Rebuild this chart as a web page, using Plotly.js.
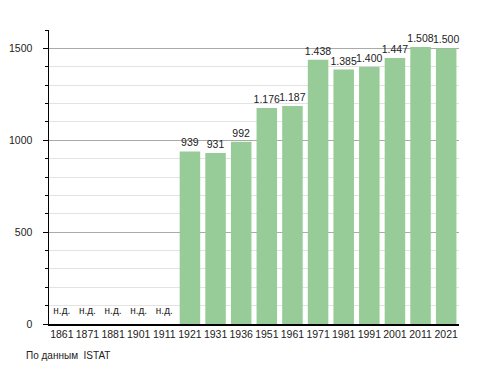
<!DOCTYPE html>
<html>
<head>
<meta charset="utf-8">
<script src="https://cdn.plot.ly/plotly-3.0.1.min.js"></script>
<style>html,body{margin:0;padding:0;background:#fff;}#chart{width:488px;height:373px;}</style>
</head>
<body>
<div id="chart"></div>
<script>
const years = ["1861","1871","1881","1901","1911","1921","1931","1936","1951","1961","1971","1981","1991","2001","2011","2021"];
const population = [null,null,null,null,null,939,931,992,1176,1187,1438,1385,1400,1447,1508,1500];
const missingLabel = "н.д.";
const sourceNote = "По данным  ISTAT";

const missYears = years.filter((y, i) => population[i] === null);
const missY = missYears.map(() => 0);

const font = {family: "Liberation Sans, Arial, sans-serif", size: 10.5, color: "#222"};

const traces = [
  {
    type: "bar",
    x: years,
    y: population,
    marker: {color: "#97cb97"},
    width: 0.8,
    texttemplate: "%{y:,}",
    textposition: "outside",
    constraintext: "none",
    textfont: font,
    cliponaxis: false,
    hoverinfo: "skip"
  },
  {
    type: "scatter",
    mode: "markers+text",
    x: missYears,
    y: missY,
    marker: {size: 10, opacity: 0},
    text: missYears.map(() => missingLabel),
    textposition: "top center",
    textfont: {family: font.family, size: 10, color: "#222"},
    cliponaxis: false,
    hoverinfo: "skip"
  }
];

const layout = {
  width: 488, height: 373,
  margin: {l: 49, r: 29, t: 30, b: 49, pad: 0},
  paper_bgcolor: "#fff", plot_bgcolor: "#fff",
  showlegend: false,
  separators: ",.",
  font: font,
  bargap: 0.2,
  xaxis: {
    type: "category",
    range: [-0.5, years.length - 0.5],
    autorange: false,
    showline: true, linecolor: "#000", linewidth: 1.5,
    ticks: "", showgrid: false,
    tickangle: 0,
    tickfont: font,
    fixedrange: true
  },
  yaxis: {
    range: [0, 1600],
    dtick: 500, tick0: 0,
    showline: true, linecolor: "#000", linewidth: 1.5,
    ticks: "outside", ticklen: 5, tickcolor: "#000",
    gridcolor: "#aaaaaa", gridwidth: 1,
    zeroline: false,
    tickfont: font,
    ticklabelstandoff: 8,
    minor: {dtick: 100, ticks: "outside", ticklen: 3, tickcolor: "#000", showgrid: true, gridcolor: "#e3e3e3", gridwidth: 1},
    fixedrange: true
  },
  annotations: [{
    xref: "paper", yref: "paper",
    x: -49/410 + 24/410, y: -32/294,
    xanchor: "left", yanchor: "middle",
    text: sourceNote, showarrow: false,
    font: {family: font.family, size: 10, color: "#222"}
  }]
};

Plotly.newPlot("chart", traces, layout, {displayModeBar: false, staticPlot: true});
</script>
</body>
</html>
